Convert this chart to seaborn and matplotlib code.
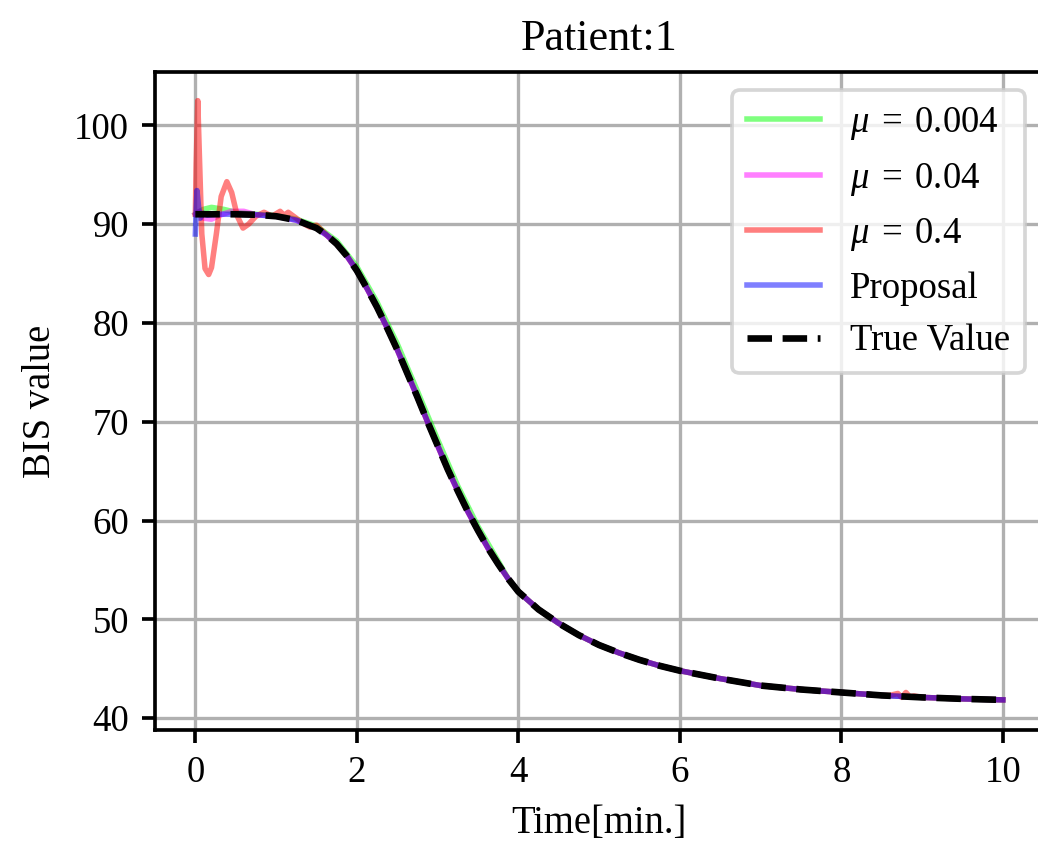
import matplotlib
matplotlib.use("Agg")
import matplotlib.pyplot as plt
import seaborn as sns
import pandas as pd

# true BIS trajectory
true_time = [0.0, 0.25, 0.5, 0.75, 1.0, 1.25, 1.5, 1.625, 1.75, 1.875, 2.0, 2.125, 2.25,
             2.375, 2.5, 2.625, 2.75, 2.875, 3.0, 3.125, 3.25, 3.375, 3.5, 3.625, 3.75,
             3.875, 4.0, 4.25, 4.5, 4.75, 5.0, 5.25, 5.5, 5.75, 6.0, 6.5, 7.0, 7.5, 8.0,
             8.5, 9.0, 9.5, 10.0]
true_bis = [91.0, 91.0, 91.0, 90.95, 90.8, 90.4, 89.6, 88.9, 88.0, 86.8, 85.3, 83.5, 81.6,
            79.5, 77.3, 74.9, 72.5, 70.0, 67.6, 65.2, 63.0, 60.9, 59.0, 57.2, 55.6,
            54.1, 52.8, 51.0, 49.6, 48.4, 47.4, 46.6, 45.9, 45.3, 44.8, 44.0, 43.3, 42.9, 42.6,
            42.3, 42.1, 41.95, 41.85]

# early transients of each estimator, the rest follows the true curve
green_head_time = [0.0, 0.1, 0.2, 0.35, 0.5, 0.75, 1.0, 1.25, 1.5, 1.75, 2.0, 2.25,
                   2.5, 2.75, 3.0, 3.25, 3.5, 3.75]
green_head_bis = [91.0, 91.5, 91.7, 91.5, 91.2, 91.0, 90.85, 90.5, 89.8, 88.3, 85.7, 82.1,
                  77.9, 73.1, 68.2, 63.5, 59.4, 55.9]

magenta_head_time = [0.0, 0.05, 0.1, 0.2, 0.3, 0.45, 0.6, 0.75]
magenta_head_bis = [91.0, 91.3, 90.6, 90.5, 90.9, 91.3, 91.3, 90.95]

red_head_time = [0.0, 0.01, 0.03, 0.05, 0.08, 0.12, 0.165, 0.2, 0.26, 0.32, 0.39, 0.45,
                 0.52, 0.59, 0.66, 0.75, 0.85, 0.95, 1.05, 1.1, 1.15, 1.25, 1.35, 1.42, 1.5]
red_head_bis = [91.0, 96.0, 102.5, 97.0, 89.0, 85.5, 84.9, 85.6, 89.0, 92.8, 94.3, 93.2,
                90.8, 89.6, 90.0, 90.8, 91.2, 90.8, 91.3, 90.9, 91.2, 90.6, 90.0, 89.7, 89.9]
red_tail_time = [8.6, 8.7, 8.75, 8.8, 8.85, 8.9]
red_tail_bis = [42.3, 42.5, 42.1, 42.6, 42.15, 42.25]

blue_head_time = [0.0, 0.01, 0.02, 0.04, 0.06, 0.1, 0.15]
blue_head_bis = [89.0, 91.5, 93.4, 91.8, 90.6, 91.1, 90.9]


def join(head_t, head_v, tail_t=None, tail_v=None):
    rows = list(zip(head_t, head_v))
    start = max(head_t)
    for t, v in zip(true_time, true_bis):
        if t > start:
            rows.append((t, v))
    if tail_t is not None:
        rows = [r for r in rows if not (min(tail_t) <= r[0] <= max(tail_t))]
        rows += list(zip(tail_t, tail_v))
    rows.sort()
    return pd.DataFrame(rows, columns=["time", "bis"])


plt.rcParams["font.family"] = ["Liberation Serif", "DejaVu Serif"]
plt.rcParams["mathtext.fontset"] = "custom"
plt.rcParams["mathtext.rm"] = "Liberation Serif"
plt.rcParams["mathtext.it"] = "Liberation Serif:italic"

fig = plt.figure(figsize=(1038 / 265, 853 / 265), dpi=265)
ax = fig.add_axes([0.1493, 0.1442, 0.8557, 0.7714])

series = [
    (join(green_head_time, green_head_bis), "lime", r"$\mu\;=\;\mathrm{0.004}$"),
    (join(magenta_head_time, magenta_head_bis), "magenta", r"$\mu\;=\;\mathrm{0.04}$"),
    (join(red_head_time, red_head_bis, red_tail_time, red_tail_bis), "red", r"$\mu\;=\;\mathrm{0.4}$"),
    (join(blue_head_time, blue_head_bis), "blue", "Proposal"),
]
for df, color, label in series:
    sns.lineplot(data=df, x="time", y="bis", color=color, alpha=0.5, lw=1.5,
                 label=label, ax=ax, estimator=None, sort=False)

true_df = pd.DataFrame({"time": true_time, "bis": true_bis})
sns.lineplot(data=true_df, x="time", y="bis", color="black", lw=1.8, linestyle="--",
             label="True Value", ax=ax, estimator=None, sort=False)

ax.set_xlim(-0.5, 10.5)
ax.set_ylim(38.8, 105.4)
ax.set_xticks([0, 2, 4, 6, 8, 10])
ax.set_yticks([40, 50, 60, 70, 80, 90, 100])
ax.tick_params(labelsize=10, width=1.0)
ax.grid(True, color="#b0b0b0", lw=0.9)
for side in ["left", "bottom", "top"]:
    ax.spines[side].set_linewidth(1.0)
ax.spines["right"].set_visible(False)
ax.set_title("Patient:1", fontsize=12)
ax.set_xlabel("Time[min.]", fontsize=10.5)
ax.set_ylabel("BIS value", fontsize=10.5)
ax.legend(loc="upper right", fontsize=10)

fig.savefig("out.png", dpi=265)
